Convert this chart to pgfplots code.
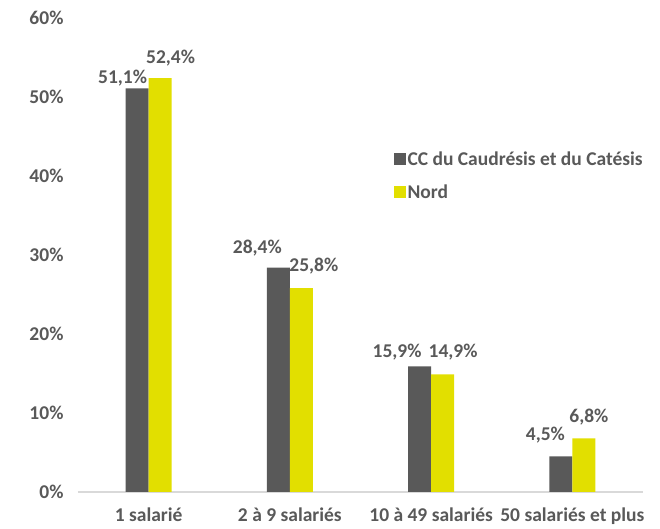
\documentclass[border=0pt]{standalone}
\usepackage{pgfplots}
\usepackage{pgfplotstable}
\pgfplotsset{compat=1.18}
\usepackage{fontspec}
\setmainfont{Carlito}
\definecolor{cgray}{HTML}{595959}
\definecolor{cyel}{HTML}{E2DF00}
\definecolor{ctext}{HTML}{595959}
\definecolor{caxis}{HTML}{D9D9D9}
\pgfplotstableread{
x y dx dy
0 51.1 -14.5 5
1 28.4 -21 14
2 15.9 -22.5 9
3 4.5 -15.5 16
}\cc
\pgfplotstableread{
x y dx dy
0 52.4 10.5 15
1 25.8 12.5 17
2 14.9 10.5 17
3 6.8 5 16
}\nord
\begin{document}
\begin{tikzpicture}
\begin{axis}[
  /pgf/number format/assume math mode=true,
  scale only axis,
  width=565pt, height=474pt,
  ybar=0pt, bar width=0.163,
  xmin=-0.5, xmax=3.5, ymin=0, ymax=60,
  xtick={0,1,2,3},
  xticklabels={1 salarié, 2 à 9 salariés, 10 à 49 salariés, 50 salariés et plus},
  ytick={0,10,20,30,40,50,60},
  yticklabels={0\%,10\%,20\%,30\%,40\%,50\%,60\%},
  major tick length=0pt,
  axis lines*=left,
  x axis line style={draw=caxis, line width=1.2pt, -},
  y axis line style={draw=none},
  tick label style={font=\fontsize{19.5}{22}\selectfont\bfseries, text=ctext},
  yticklabel style={xshift=-11pt},
  xticklabel style={anchor=base, yshift=-30pt},
  legend style={at={(0.559,0.722)}, anchor=north west, draw=none, fill=none,
    font=\fontsize{19.5}{22}\selectfont\bfseries, text=ctext, row sep=15pt,
    inner sep=0pt, nodes={inner sep=1.5pt}, cells={anchor=west}},
  legend image code/.code={\fill[#1] (0pt,-6pt) rectangle (12pt,6pt);},
  clip=false,
  mylab/.style={
    visualization depends on={\thisrow{dx}\as\dx},
    visualization depends on={\thisrow{dy}\as\dy},
    nodes near coords={\pgfmathprintnumber[fixed,fixed zerofill,precision=1,use comma]{\pgfplotspointmeta}\%},
    nodes near coords style={font=\fontsize{19.5}{22}\selectfont\bfseries, text=ctext,
      anchor=base, inner sep=0pt, xshift=\dx pt, yshift=\dy pt},
  },
]
\addplot[fill=cgray, draw=none, mylab] table[x=x,y=y] {\cc};
\addplot[fill=cyel, draw=none, mylab] table[x=x,y=y] {\nord};
\legend{CC du Caudrésis et du Catésis, Nord}
\end{axis}
\path (current axis.south west) ++(-78pt,-35pt) coordinate (bl);
\path (current axis.north east) ++(17pt,18pt) coordinate (tr);
\path (bl) rectangle (tr);
\end{tikzpicture}
\end{document}
